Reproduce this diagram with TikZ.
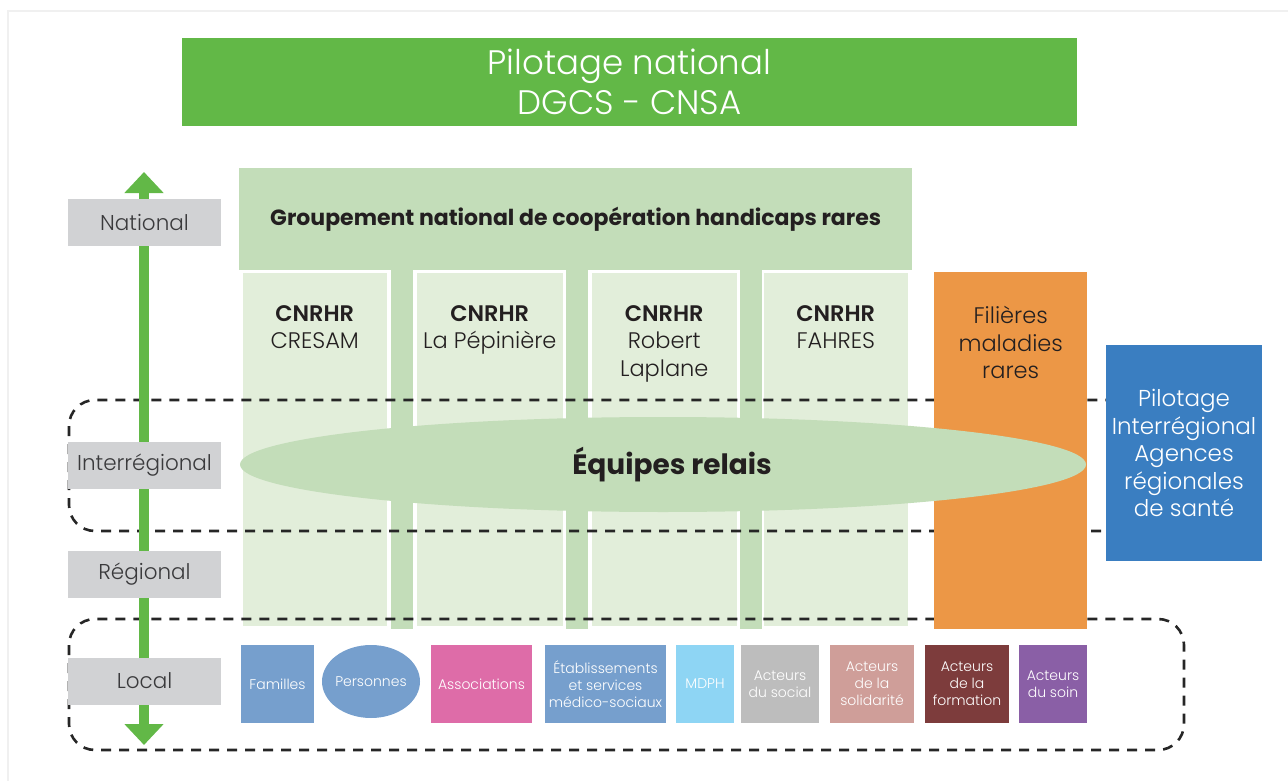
\documentclass[tikz,border=0pt]{standalone}
\usepackage{fontspec}
\setmainfont{Poppins}
\newfontfamily\lightf{Poppins Light}
\usetikzlibrary{shapes,arrows.meta,positioning,calc}

\definecolor{pilotgreen}{HTML}{62B847}
\definecolor{gncgreen}{HTML}{C3DDB9}
\definecolor{cellgreen}{HTML}{E2EEDA}
\definecolor{filorange}{HTML}{EC9746}
\definecolor{arsblue}{HTML}{3A7EC1}
\definecolor{lvlgray}{HTML}{D1D2D4}
\definecolor{txtgray}{HTML}{3A3A3C}
\definecolor{txtblack}{HTML}{231F20}
\definecolor{famblue}{HTML}{769FCD}
\definecolor{assopink}{HTML}{DE6CA8}
\definecolor{mdphblue}{HTML}{8ED5F4}
\definecolor{socgray}{HTML}{BDBDBD}
\definecolor{solrose}{HTML}{CF9E99}
\definecolor{formbrown}{HTML}{7D3C3C}
\definecolor{soinpurple}{HTML}{8A5FA6}

\tikzset{
  box/.style={inner sep=0pt, align=center},
  level/.style={box, fill=lvlgray, minimum width=153pt, minimum height=47pt,
    text=txtgray, font=\lightf\fontsize{21.5}{25}\selectfont},
  cell/.style={box, fill=cellgreen, draw=white, line width=1.5pt,
    minimum width=146pt, minimum height=355pt, anchor=north west},
  celltext/.style={box, anchor=north, text=txtblack,
    font=\lightf\fontsize{22.5}{27.5}\selectfont},
  actor/.style={box, minimum height=78pt, text=white,
    font=\lightf\fontsize{14}{17}\selectfont},
  zone/.style={draw=black!85, line width=2.6pt, dash pattern=on 10pt off 8pt,
    rounded corners=26pt},
}

\begin{document}
\begin{tikzpicture}[x=1pt,y=-1pt]
  \useasboundingbox (0,0) rectangle (1288,781);
  \draw[black!6, line width=1.5pt] (8,11) rectangle (1300,795);

  % pilotage national
  \node[box, fill=pilotgreen, minimum width=895pt, minimum height=88pt, text=white,
    font=\lightf\fontsize{34}{40}\selectfont] (pilot) at (629.5,82)
    {Pilotage national\\DGCS - CNSA};

  % groupement + centres
  \node[box, fill=gncgreen, minimum width=673pt, minimum height=102pt, anchor=north west,
    text=txtblack, font=\bfseries\fontsize{22}{26}\selectfont] (gnc) at (239,168)
    {Groupement national de coopération handicaps rares};
  \foreach \x in {402,577,750.5}
    \fill[gncgreen] (\x-11,268) rectangle (\x+11,629);

  \node[cell] (c1) at (241,271) {};
  \node[cell, minimum width=147pt] (c2) at (415.5,271) {};
  \node[cell] (c3) at (590.5,271) {};
  \node[cell] (c4) at (762,271) {};
  \node[celltext, below=34pt of c1.north] (t1) {\textbf{CNRHR}\\CRESAM};
  \node[celltext, below=34pt of c2.north] (t2) {\textbf{CNRHR}\\La Pépinière};
  \node[celltext, below=34pt of c3.north] (t3) {\textbf{CNRHR}\\Robert\\Laplane};
  \node[celltext, below=34pt of c4.north] (t4) {\textbf{CNRHR}\\FAHRES};

  % niveaux
  \draw[zone] (69,400) rectangle (1184,531);
  \draw[zone] (69,619) rectangle (1184,750);

  \coordinate (up) at (144,172);
  \coordinate (down) at (144,745);
  \draw[pilotgreen, line width=10pt,
    {Triangle[width=38pt,length=21pt]}-{Triangle[width=38pt,length=21pt]}] (up) -- (down);

  \node[level] (nat) at (144.5,222.5) {National};
  \node[level] (inter) at (144.5,465.5) {Interrégional};
  \node[level] (reg) at (144.5,574.5) {Régional};
  \node[level] (loc) at (144.5,681) {Local};

  % filieres
  \node[box, fill=filorange, minimum width=153pt, minimum height=357pt, anchor=north west]
    (fil) at (934,272) {};
  \node[celltext, below=34pt of fil.north] (tfil) {Filières\\maladies\\rares};

  \node[ellipse, fill=gncgreen, minimum width=846pt, minimum height=95pt, inner sep=0pt,
    text=txtblack, font=\bfseries\fontsize{28}{32}\selectfont] (relais) at (663,464.5)
    {\hspace*{18pt}Équipes relais};

  \node[box, fill=arsblue, minimum width=156pt, minimum height=216pt, text=white,
    font=\lightf\fontsize{23}{27.5}\selectfont] (ars) at (1184,453)
    {Pilotage\\Interrégional\\Agences\\régionales\\de santé};

  % acteurs locaux
  \node[actor, fill=famblue, minimum width=73pt] (fam) at (277.5,684) {Familles};
  \node[actor, ellipse, fill=famblue, minimum width=98pt, minimum height=73pt,
    label={[actor]center:Personnes}] (pers) at (371,681.5) {};
  \node[actor, fill=assopink, minimum width=101pt] (asso) at (481.5,684) {Associations};
  \node[actor, fill=famblue, minimum width=121pt] (esms) at (605.5,684)
    {Établissements\\et services\\médico-sociaux};
  \node[actor, fill=mdphblue, minimum width=58pt] (mdph) at (705,684) {MDPH};
  \node[actor, fill=socgray, minimum width=78pt] (soc) at (780,684)
    {Acteurs\\du social};
  \node[actor, fill=solrose, minimum width=84pt] (sol) at (872,684)
    {Acteurs\\de la\\solidarité};
  \node[actor, fill=formbrown, minimum width=84pt] (form) at (967,684)
    {Acteurs\\de la\\formation};
  \node[actor, fill=soinpurple, minimum width=68pt] (soin) at (1053,684)
    {Acteurs\\du soin};
\end{tikzpicture}
\end{document}
